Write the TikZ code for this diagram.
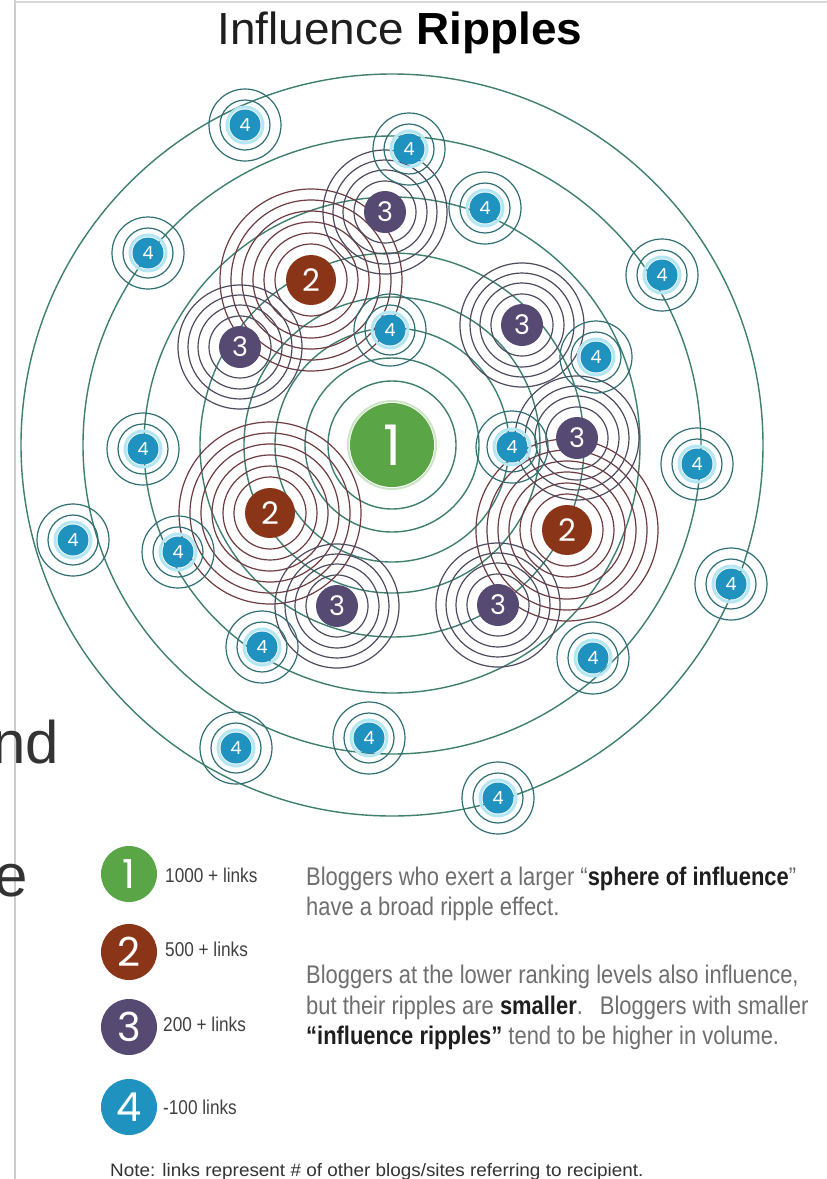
\documentclass[tikz,border=0pt]{standalone}
\usepackage{fontspec}
\setmainfont{Liberation Sans}
\newfontfamily\numfont{Poppins}
\newfontfamily\condfont[FakeStretch=0.86]{Liberation Sans}
\newfontfamily\labfont[FakeStretch=0.86]{Liberation Sans}
\newfontfamily\notefont[FakeStretch=1.05]{Liberation Sans}
\newfontfamily\titlefont[FakeStretch=1.02]{Liberation Sans}
\definecolor{cgreen}{HTML}{5AA646}
\definecolor{cbrown}{HTML}{8A3517}
\definecolor{cpurple}{HTML}{574A72}
\definecolor{cblue}{HTML}{1F92BF}
\definecolor{rgreen}{HTML}{3E7F6E}
\definecolor{rbrown}{HTML}{6E3B40}
\definecolor{rpurple}{HTML}{4E4A5E}
\definecolor{rteal}{HTML}{2F6E72}
\definecolor{halo}{HTML}{B5E6F3}
\definecolor{txtgrey}{HTML}{6E6E6E}
\definecolor{txtdark}{HTML}{1E1E1E}
\begin{document}
\begin{tikzpicture}[x=1pt,y=-1pt,
  bigring/.style={draw=rgreen, line width=1.4pt},
  tworing/.style={draw=rbrown, line width=1.2pt},
  threering/.style={draw=rpurple, line width=1.2pt},
  fourring/.style={draw=rteal, line width=1.2pt},
  fourhalo/.style={draw=halo, line width=3pt},
  basedot/.style={circle, inner sep=0pt, text=white},
  onedot/.style={basedot, fill=cgreen, minimum size=84pt, font=\numfont\fontsize{56}{56}\selectfont},
  twodot/.style={basedot, fill=cbrown, minimum size=50pt, font=\numfont\fontsize{31}{31}\selectfont},
  threedot/.style={basedot, fill=cpurple, minimum size=42pt, font=\numfont\fontsize{27}{27}\selectfont},
  fourdot/.style={basedot, fill=cblue, minimum size=31pt, font=\numfont\fontsize{18}{18}\selectfont},
  legdot/.style={basedot, minimum size=56pt, font=\numfont\fontsize{40}{40}\selectfont},
  paratext/.style={anchor=base west, inner sep=0pt, text=txtgrey, font=\condfont\fontsize{25.5}{30}\selectfont},
  labtext/.style={anchor=base west, inner sep=0pt, text=black!75, font=\labfont\fontsize{20}{20}\selectfont},
  edgetext/.style={anchor=base west, inner sep=0pt, text=black!80, font=\fontsize{60}{60}\selectfont}
]
\useasboundingbox (0,0) rectangle (827,1179);
\fill[white] (0,0) rectangle (827,1179);
\draw[black!20, line width=1.5pt] (15,0) -- (15,1179);
\draw[black!15, line width=1.5pt] (15,2) -- (827,2);
\begin{scope}
\clip (0,0) rectangle (827,1179);
\node[edgetext] (edgeA) at (-8,763) {nd};
\node[edgetext] (edgeB) at (-6,896) {e};
\end{scope}

% title
\node[anchor=base, inner sep=0pt, text=txtdark, font=\titlefont\fontsize{45}{45}\selectfont] (title) at (400,44) {Influence \textbf{\color{black}Ripples}};

% centres
\coordinate (c1) at (392,445);
\foreach \n/\px/\py in {1/311/280, 2/270/513, 3/567/530}
  \coordinate (w\n) at (\px,\py);
\foreach \n/\px/\py in {1/385/212, 2/240/347, 3/522/325, 4/577/438, 5/337/606, 6/498/605}
  \coordinate (t\n) at (\px,\py);
\foreach \n/\px/\py in {1/245/125, 2/409/149, 3/485/208, 4/148/253, 5/662/275, 6/390/330,
  7/596/357, 8/143/449, 9/512/447, 10/697/464, 11/73/540, 12/178/552, 13/731/584,
  14/262/647, 15/593/658, 16/369/738, 17/236/748, 18/498/798}
  \coordinate (f\n) at (\px,\py);

% ripples
\foreach \r in {64,87,117,148,192,248,309,371}
  \draw[bigring] (c1) circle[radius=\r];
\draw[cgreen!30, line width=2pt] (c1) circle[radius=44];
\foreach \n in {1,2,3}
  \foreach \r in {36,47,58,69,80,91}
    \draw[tworing] (w\n) circle[radius=\r];
\foreach \n in {1,...,6}
  \foreach \r in {31,42,52,62}
    \draw[threering] (t\n) circle[radius=\r];
\foreach \n in {1,...,18}{
  \draw[fourhalo] (f\n) circle[radius=18];
  \draw[fourring] (f\n) circle[radius=25];
  \draw[fourring] (f\n) circle[radius=36];
}

% nodes
\node[onedot] (n1) at (c1) {1};
\foreach \n in {1,2,3}
  \node[twodot] (nw\n) at (w\n) {2};
\foreach \n in {1,...,6}
  \node[threedot] (nt\n) at (t\n) {3};
\foreach \n in {1,...,18}
  \node[fourdot] (nf\n) at (f\n) {4};

% legend
\node[legdot, fill=cgreen] (l1) at (129,874) {1};
\node[legdot, fill=cbrown] (l2) at (129,952) {2};
\node[legdot, fill=cpurple] (l3) at (129,1027) {3};
\node[legdot, fill=cblue] (l4) at (129,1107) {4};
\node[labtext] (lt1) at (165,882) {1000 + links};
\node[labtext] (lt2) at (165,956) {500 + links};
\node[labtext] (lt3) at (163,1031) {200 + links};
\node[labtext] (lt4) at (163,1114) {-100 links};

\node[paratext] (p1) at (306,885) {Bloggers who exert a larger “{\bfseries\color{txtdark}sphere of influence}”};
\node[paratext] (p2) at (306,915) {have a broad ripple effect.};
\node[paratext] (p3) at (306,983) {Bloggers at the lower ranking levels also influence,};
\node[paratext] (p4) at (306,1014) {but their ripples are {\bfseries\color{txtdark}smaller}.\hspace{0.35em} Bloggers with smaller};
\node[paratext] (p5) at (306,1044) {{\bfseries\color{txtdark}“influence ripples”} tend to be higher in volume.};

\node[anchor=base west, inner sep=0pt, text=black!80, font=\notefont\fontsize{18}{18}\selectfont] (note) at (110,1176) {Note: links represent \# of other blogs/sites referring to recipient.};
\end{tikzpicture}
\end{document}
